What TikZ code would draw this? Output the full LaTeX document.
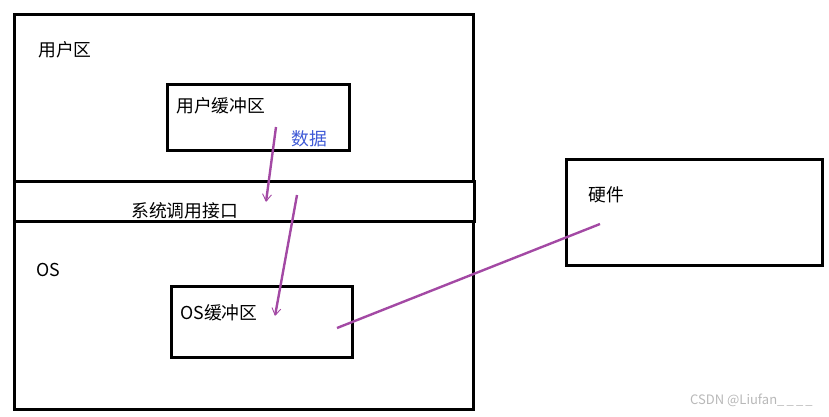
\documentclass[tikz,border=0pt]{standalone}
\usepackage{fontspec}
\setmainfont{Noto Sans CJK SC}
\usetikzlibrary{arrows.meta}
\definecolor{flowpurple}{RGB}{163,73,164}
\definecolor{datablue}{RGB}{63,90,214}

\begin{document}
\begin{tikzpicture}[x=1pt, y=-1pt, font=\fontsize{17.8}{21}\selectfont,
  area/.style={draw, line width=2.6pt, anchor=north west, inner sep=0pt},
  lbl/.style={anchor=west, inner sep=0pt},
  flow/.style={draw=flowpurple, line width=2.4pt},
  tip/.style={-{Straight Barb[length=7pt,width=9pt,line width=0.9pt]}}]
\useasboundingbox (0,0) rectangle (829,416);
% user space, syscall band, kernel space
\node[area, minimum width=459pt, minimum height=167pt] (user) at (13,13) {};
\node[area, minimum width=460pt, minimum height=40pt] (sys) at (13,180) {};
\node[area, minimum width=459pt, minimum height=188pt] (os) at (13,220) {};
\node[area, minimum width=182pt, minimum height=66pt] (ubuf) at (166,83) {};
\node[area, minimum width=181pt, minimum height=71pt] (obuf) at (170,285) {};
\node[area, minimum width=256pt, minimum height=106pt] (hw) at (565,158) {};
% labels
\node[lbl] (userlbl) at (38,50) {用户区};
\node[lbl] (ubuflbl) at (176,106) {用户缓冲区};
\node[lbl, text=datablue] (data) at (291,139) {数据};
\node[lbl] (syslbl) at (131,211) {系统调用接口};
\node[lbl] (oslbl) at (36,270) {OS};
\node[lbl] (obuflbl) at (180,313) {OS缓冲区};
\node[lbl] (hwlbl) at (588,195) {硬件};
\node[lbl, font=\fontsize{13}{15}\selectfont, text=black!28] (mark) at (690,400) {CSDN @Liufan\_\,\_\,\_\,\_};
% data path
\coordinate (a1) at (276,127);
\coordinate (a2) at (266,202);
\coordinate (b1) at (297,195);
\coordinate (b2) at (275,316);
\coordinate (c1) at (337,328);
\coordinate (c2) at (600,224);
\draw[flow, tip] (a1) -- (a2);
\draw[flow, tip] (b1) -- (b2);
\draw[flow] (c1) -- (c2);
\end{tikzpicture}
\end{document}
